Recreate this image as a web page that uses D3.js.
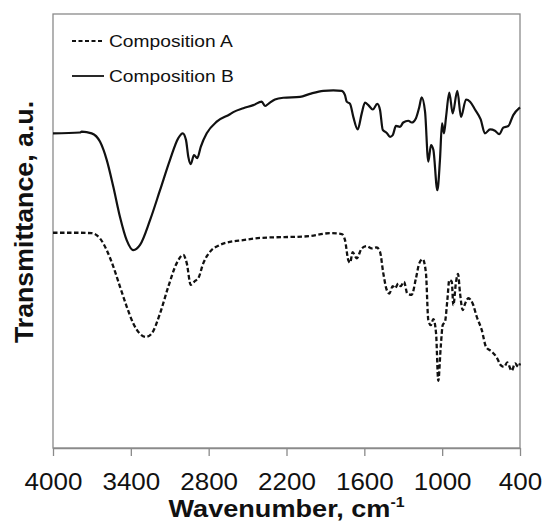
<!DOCTYPE html>
<html>
<head>
<meta charset="utf-8">
<script src="https://cdn.jsdelivr.net/npm/d3@7"></script>
<style>
  html, body { margin: 0; padding: 0; background: #fff; }
  svg { display: block; font-family: Arial, "Liberation Sans", sans-serif; }
</style>
</head>
<body>
<svg id="chart" width="545" height="524"></svg>
<script>
// Wavenumber ticks
const xTicks = [4000, 3400, 2800, 2200, 1600, 1000, 400];

// Composition B (solid, upper trace): wavenumber (cm-1)
const wnB = [4000, 3792, 3779, 3702, 3638, 3586, 3535, 3484, 3432, 3381, 3329, 3252, 3175, 3098, 3034, 3000,
  2975, 2957, 2938, 2913, 2888, 2861, 2815, 2738, 2636, 2610, 2533, 2456, 2391, 2366, 2340, 2289, 2225,
  2096, 2019, 1916, 1839, 1774, 1749, 1736, 1710, 1685, 1651, 1620, 1595, 1569, 1535, 1500, 1479, 1458,
  1427, 1402, 1381, 1356, 1325, 1300, 1261, 1235, 1202, 1176, 1158, 1132, 1107, 1086, 1068, 1037, 1017,
  1001, 986, 970, 945, 919, 883, 855, 816, 785, 747, 703, 670, 631, 593, 560, 529, 490, 452, 400];
// Composition B transmittance (a.u.)
const tB = [72.5, 72.7, 72.9, 72.5, 70.6, 66.4, 60.2, 53.3, 47.9, 45.6, 46.8, 52.5, 59.4, 66.4, 71.4, 72.5,
  71.0, 67.1, 65.4, 67.5, 66.8, 69.4, 72.5, 75.2, 76.9, 77.4, 78.3, 79.0, 79.8, 78.8, 79.3, 80.3, 80.7,
  80.9, 81.6, 82.3, 82.4, 82.3, 81.3, 79.8, 79.3, 76.3, 73.4, 77.1, 79.6, 79.0, 78.0, 79.3, 77.9, 73.3,
  72.6, 71.7, 72.1, 74.2, 74.0, 75.0, 75.4, 75.0, 76.0, 78.6, 80.8, 77.5, 66.0, 69.8, 68.7, 59.4, 66.4,
  74.8, 72.5, 76.3, 81.9, 77.1, 82.3, 76.3, 80.3, 79.8, 78.0, 75.7, 72.5, 73.4, 73.1, 72.3, 73.8, 74.2, 76.7, 78.5];

// Composition A (dashed, lower trace): wavenumber (cm-1)
const wnA = [4000, 3817, 3702, 3638, 3586, 3535, 3484, 3432, 3381, 3329, 3283, 3239, 3175, 3111, 3046, 2996,
  2969, 2938, 2905, 2880, 2841, 2790, 2713, 2636, 2535, 2404, 2027, 1865, 1774, 1749, 1724, 1710, 1690,
  1659, 1620, 1582, 1543, 1505, 1479, 1454, 1427, 1407, 1381, 1364, 1338, 1320, 1294, 1269, 1235, 1202,
  1176, 1150, 1125, 1107, 1088, 1068, 1047, 1030, 1011, 996, 978, 960, 945, 926, 914, 893, 878, 862,
  842, 824, 798, 765, 734, 695, 662, 618, 580, 549, 523, 498, 464, 438, 413, 400];
// Composition A transmittance (a.u.)
const tA = [49.6, 49.6, 49.5, 48.3, 45.6, 41.8, 37.2, 32.6, 28.7, 26.3, 25.6, 26.4, 31.0, 37.2, 42.6, 44.5,
  42.6, 37.6, 38.5, 39.1, 42.6, 45.2, 46.8, 47.5, 47.9, 48.4, 48.8, 49.5, 49.3, 47.9, 43.3, 42.7, 45.1,
  43.7, 46.0, 46.5, 46.0, 46.2, 45.2, 40.3, 36.4, 35.6, 37.3, 36.8, 37.9, 37.3, 38.3, 35.6, 35.3, 39.1,
  42.6, 43.5, 40.3, 29.5, 28.3, 29.7, 26.4, 15.5, 23.3, 28.3, 29.1, 34.1, 38.7, 38.3, 32.9, 38.3, 40.1, 35.6,
  31.8, 33.2, 34.5, 33.3, 30.3, 27.2, 23.3, 22.2, 20.9, 19.1, 18.7, 19.7, 17.8, 19.5, 18.7, 19.5];

const seriesNames = ["Composition A", "Composition B"];

const svg = d3.select("#chart");
const L = 53, R = 520, T = 14, B = 448;
const SX = 1.13;
const grey = "#8a8a8a";

const x = d3.scaleLinear().domain([4000, 400]).range([L, R]);
const y = d3.scaleLinear().domain([0, 100]).range([B, T]);

// frame
svg.append("rect").attr("x", L).attr("y", T).attr("width", R - L).attr("height", B - T)
  .attr("fill", "none").attr("stroke", grey).attr("stroke-width", 1.3);

// x axis
const ax = svg.append("g").attr("transform", `translate(0,${B})`)
  .call(d3.axisBottom(x).tickValues(xTicks).tickSize(8).tickSizeOuter(0).tickFormat(d3.format("d")));
ax.select(".domain").attr("stroke", grey).attr("stroke-width", 1.3);
ax.selectAll(".tick line").attr("stroke", grey).attr("stroke-width", 1.3);
ax.selectAll(".tick text")
  .attr("y", 42).attr("dy", 0)
  .attr("fill", "#111")
  .style("font-size", "23px")
  .attr("transform", `scale(${SX},1)`);

// lines
const line = d3.line().x(d => x(d[0])).y(d => y(d[1])).curve(d3.curveMonotoneX);
const dataA = wnA.map((w, i) => [w, tA[i]]);
const dataB = wnB.map((w, i) => [w, tB[i]]);

svg.append("path").datum(dataB).attr("d", line)
  .attr("fill", "none").attr("stroke", "#111").attr("stroke-width", 2.2);
svg.append("path").datum(dataA).attr("d", line)
  .attr("fill", "none").attr("stroke", "#111").attr("stroke-width", 2.3)
  .attr("stroke-dasharray", "4.5,2.5");

// legend
const leg = [
  { name: seriesNames[0], dash: "4,2.5", yy: 41 },
  { name: seriesNames[1], dash: null, yy: 76 }
];
leg.forEach(l => {
  const ln = svg.append("line").attr("x1", 72).attr("x2", 104).attr("y1", l.yy).attr("y2", l.yy)
    .attr("stroke", "#111").attr("stroke-width", 1.8);
  if (l.dash) ln.attr("stroke-dasharray", l.dash);
  svg.append("text")
    .attr("transform", `translate(109,${l.yy + 6}) scale(${SX},1)`)
    .attr("fill", "#111").style("font-size", "17px")
    .text(l.name);
});

// x title
const xt = svg.append("text")
  .attr("transform", `translate(${(L + R) / 2},517) scale(${SX},1)`)
  .attr("text-anchor", "middle").attr("fill", "#111")
  .style("font-size", "24px").style("font-weight", "bold");
xt.append("tspan").text("Wavenumber, cm");
xt.append("tspan").attr("dy", -10).style("font-size", "14px").text("-1");

// y title
svg.append("text")
  .attr("transform", `translate(33,222) rotate(-90) scale(1.07,1)`)
  .attr("text-anchor", "middle").attr("fill", "#111")
  .style("font-size", "25px").style("font-weight", "bold")
  .text("Transmittance, a.u.");
</script>
</body>
</html>
